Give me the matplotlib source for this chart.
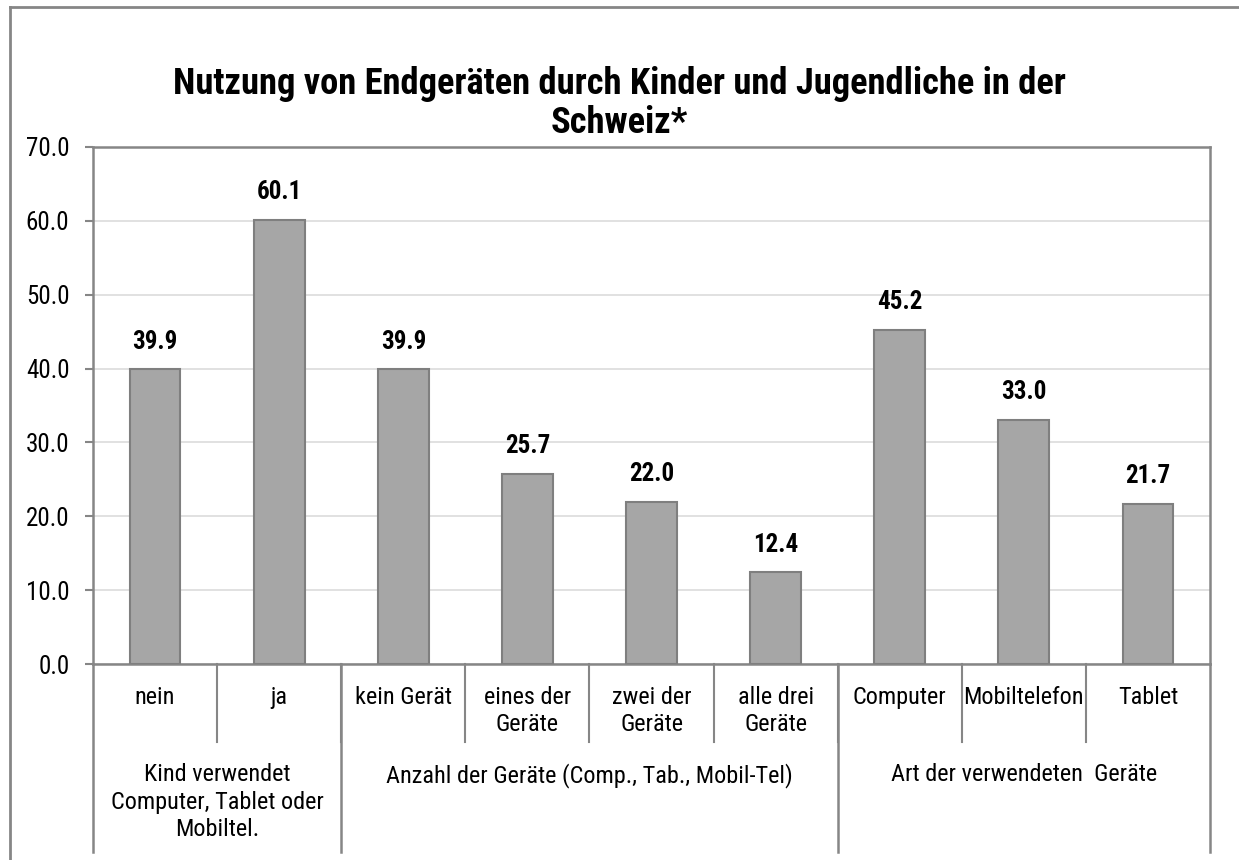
import numpy as np
import matplotlib.pyplot as plt
from matplotlib.transforms import blended_transform_factory

# data
categories = ['nein', 'ja', 'kein Gerät', 'eines der\nGeräte', 'zwei der\nGeräte',
              'alle drei\nGeräte', 'Computer', 'Mobiltelefon', 'Tablet']
values = [39.9, 60.1, 39.9, 25.7, 22.0, 12.4, 45.2, 33.0, 21.7]
groups = ['Kind verwendet\nComputer, Tablet oder\nMobiltel.',
          'Anzahl der Geräte (Comp., Tab., Mobil-Tel)',
          'Art der verwendeten  Geräte']
group_sizes = [2, 4, 3]
yticks = np.arange(0, 71, 10)

plt.rcParams['font.family'] = ['Roboto Condensed', 'Liberation Sans', 'DejaVu Sans']

line_col = '#868686'
fig = plt.figure(figsize=(12.39, 8.6), dpi=100)
ax = fig.add_axes([93 / 1239, 1 - 664 / 860, (1210 - 93) / 1239, (664 - 147) / 860])

x = np.arange(len(categories))
ax.bar(x, values, width=0.41, color='#a6a6a6', edgecolor='#7f7f7f', linewidth=1.5, zorder=3)
for xi, v in zip(x, values):
    ax.annotate(f'{v:.1f}', (xi, v), xytext=(0, 20), textcoords='offset points',
                ha='center', va='center', fontsize=18, fontweight='bold')

ax.set_xlim(-0.5, len(categories) - 0.5)
ax.set_ylim(0, 70)
ax.set_yticks(yticks)
ax.set_yticklabels([f'{t:.1f}' for t in yticks], fontsize=18)
ax.tick_params(axis='y', length=6, width=1.5, color=line_col, pad=11)
ax.set_xticks([])
ax.grid(axis='y', color='#dcdcdc', linewidth=1.2, zorder=0)
for s in ax.spines.values():
    s.set_color(line_col)
    s.set_linewidth(1.8)

# category and group labels below the axis
tr = blended_transform_factory(ax.transData, ax.transAxes)
h = 664 - 147
for xi, lab in zip(x, categories):
    ax.text(xi, -22 / h, lab, transform=tr, ha='center', va='top', fontsize=17.5, linespacing=1.22)
for xi in x[:-1] + 0.5:
    ax.plot([xi, xi], [0, -78 / h], transform=tr, color=line_col, lw=1.5, clip_on=False)
start = 0
bounds = [-0.5]
for g, n in zip(groups, group_sizes):
    ax.text(start + (n - 1) / 2, -99 / h, g, transform=tr, ha='center', va='top',
            fontsize=17.5, linespacing=1.25)
    start += n
    bounds.append(start - 0.5)
for b in bounds:
    ax.plot([b, b], [0, -188 / h], transform=tr, color=line_col, lw=1.8, clip_on=False)

fig.text(0.5, 1 - 66 / 860,
         'Nutzung von Endgeräten durch Kinder und Jugendliche in der\nSchweiz*',
         ha='center', va='top', fontsize=26.3, fontweight='bold', linespacing=1.12)

# outer chart frame (top and left edges visible)
fig.add_artist(plt.Line2D([10 / 1239, 1], [1 - 7 / 860] * 2, color=line_col, lw=2))
fig.add_artist(plt.Line2D([10 / 1239] * 2, [0, 1 - 7 / 860], color=line_col, lw=2))

fig.savefig('out.png', dpi=100)
